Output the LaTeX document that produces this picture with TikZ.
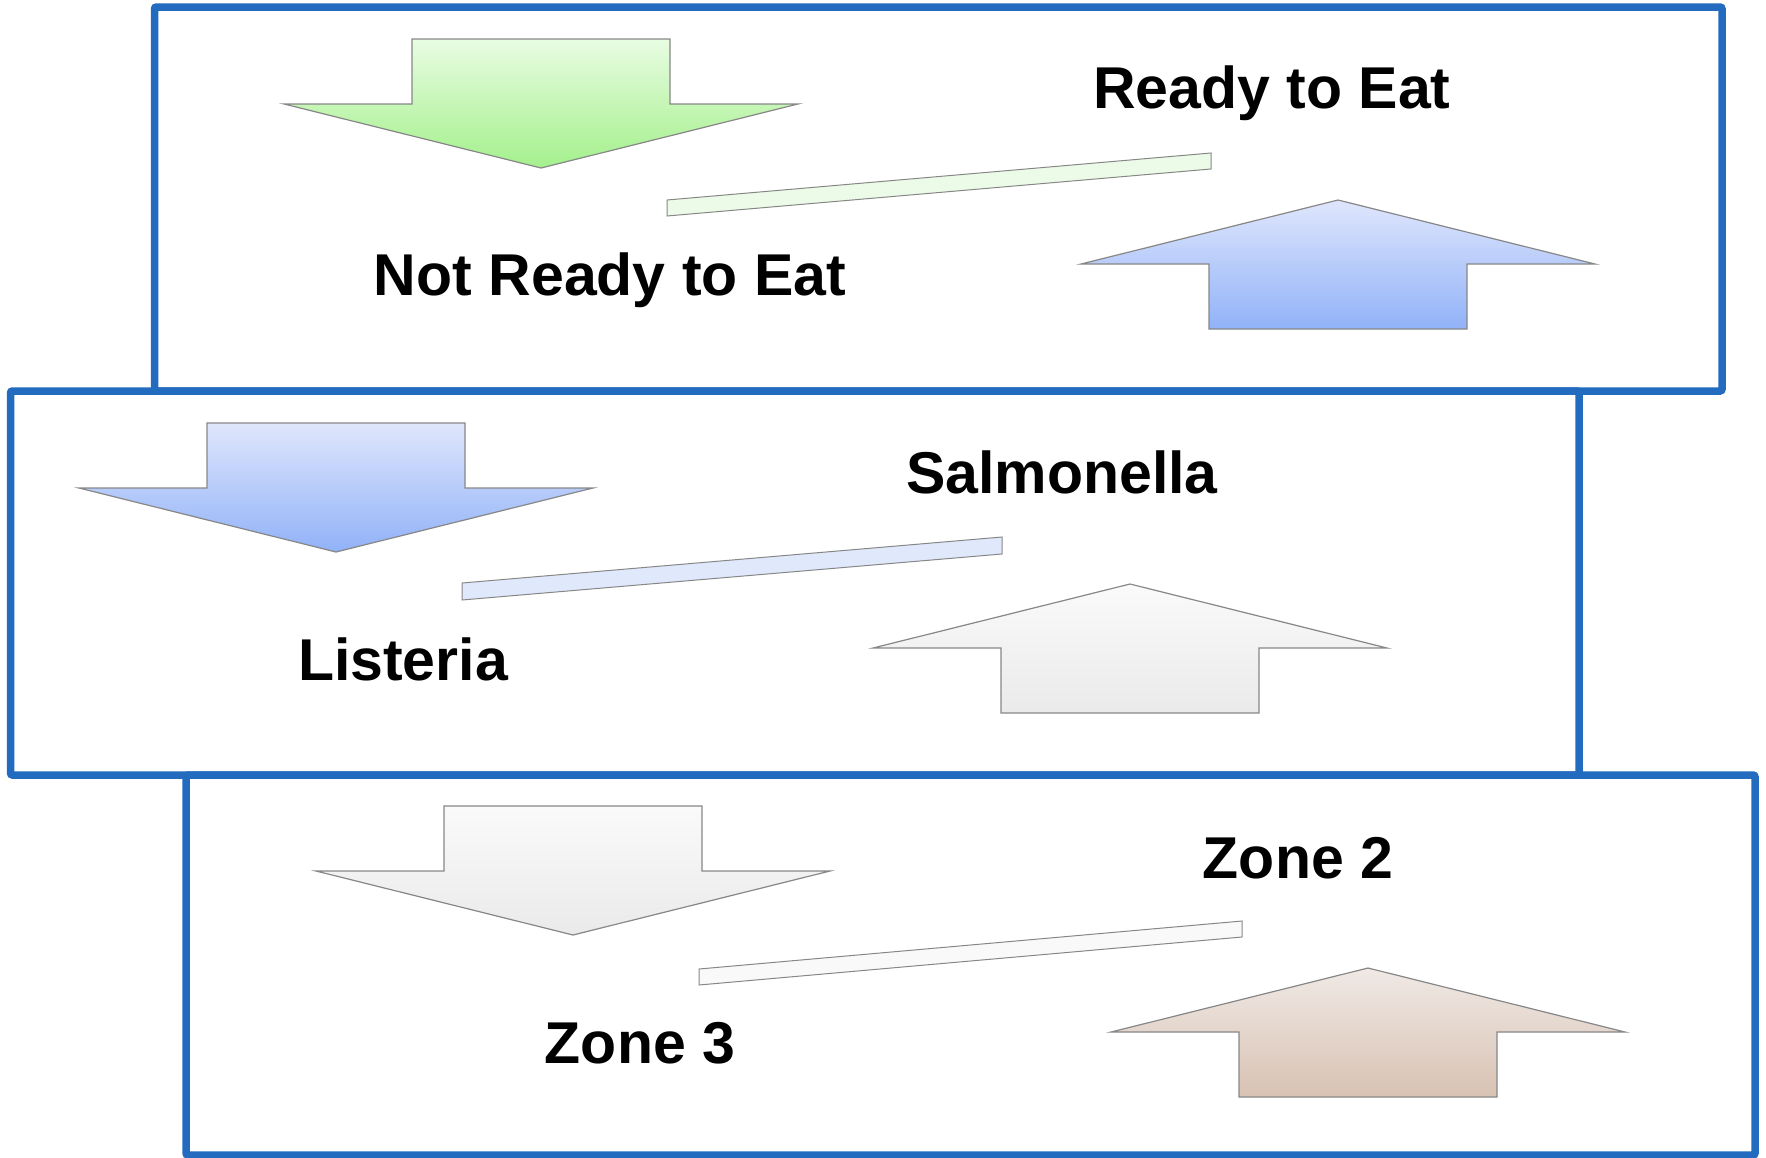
\documentclass[tikz,border=0pt]{standalone}
\usepackage{fontspec}
\setmainfont{Liberation Sans}
\usepackage{xcolor}
\usetikzlibrary{calc}

\definecolor{frameblue}{RGB}{35,107,190}
\definecolor{edgegray}{RGB}{135,135,135}
\definecolor{grnA}{RGB}{232,252,226}
\definecolor{grnB}{RGB}{164,240,140}
\definecolor{bluA}{RGB}{223,230,252}
\definecolor{bluB}{RGB}{145,178,248}
\definecolor{gryA}{RGB}{250,250,250}
\definecolor{gryB}{RGB}{234,234,234}
\definecolor{brnA}{RGB}{240,233,229}
\definecolor{brnB}{RGB}{216,194,179}
\definecolor{grnbar}{RGB}{236,251,231}
\definecolor{blubar}{RGB}{224,232,251}
\definecolor{grybar}{RGB}{249,249,249}

\begin{document}
\begin{tikzpicture}[x=0.5pt,y=-0.5pt,
		panel/.style = {draw=frameblue, line width=3.75pt, rounded corners=1pt},
		arrowshape/.style = {draw=edgegray, line width=0.6pt, line join=miter},
		barshape/.style = {draw=edgegray, line width=0.5pt},
		lbl/.style = {anchor=base, inner sep=0pt,
			font=\fontsize{29.5}{35}\selectfont\bfseries}
	]
	\useasboundingbox (0,0) rectangle (1766,1157);
	\draw[panel] (154.5,7) rectangle (1722,391);
	\draw[panel] (10.5,391) rectangle (1579,775);
	\draw[panel] (186,775) rectangle (1755,1155);
	% arrows pointing down
	\foreach \tx/\ty/\ct/\cb in {541/168/grnA/grnB, 336/552/bluA/bluB, 573/935/gryA/gryB}
	{
		\draw[arrowshape, top color=\ct, bottom color=\cb] (\tx,\ty) -- ++(257,-64) -- ++(-128,0)
			-- ++(0,-65) -- ++(-258,0) -- ++(0,65) -- ++(-128,0) -- cycle;
	};
	% arrows pointing up
	\foreach \tx/\ty/\ct/\cb in {1338/200/bluA/bluB, 1130/584/gryA/gryB, 1368/968/brnA/brnB}
	{
		\draw[arrowshape, top color=\ct, bottom color=\cb] (\tx,\ty) -- ++(257,64) -- ++(-128,0)
			-- ++(0,65) -- ++(-258,0) -- ++(0,-65) -- ++(-128,0) -- cycle;
	};
	% slanted bars
	\draw[barshape, fill=grnbar] (667,200) -- (1211,153) -- (1211,169) -- (667,216) -- cycle;
	\draw[barshape, fill=blubar] (462,583) -- (1002,537) -- (1002,554) -- (462,600) -- cycle;
	\draw[barshape, fill=grybar] (699,969) -- (1242,921) -- (1242,937) -- (699,985) -- cycle;
	% labels
	\node[lbl] (rte) at (1272,108) {Ready to Eat};
	\node[lbl] (nrte) at (610,295) {Not Ready to Eat};
	\node[lbl] (salmonella) at (1062,493) {Salmonella};
	\node[lbl] (listeria) at (403,680) {Listeria};
	\node[lbl] (zonetwo) at (1298,878) {Zone 2};
	\node[lbl] (zonethree) at (640,1063) {Zone 3};
\end{tikzpicture}
\end{document}
